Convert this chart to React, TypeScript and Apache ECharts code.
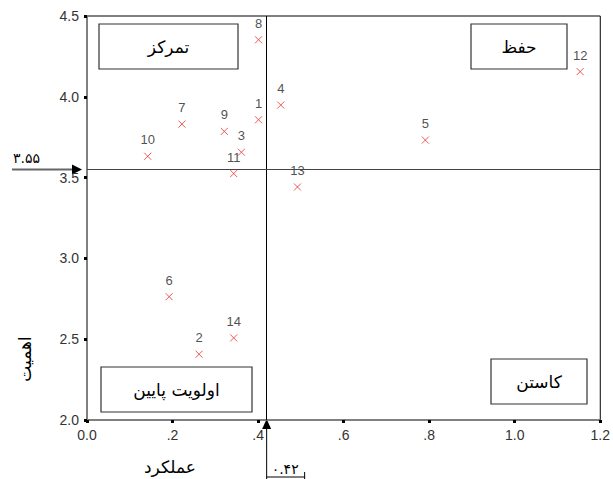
import React, { useEffect, useRef } from 'react';
import * as echarts from 'echarts';

const pointIds = ['1', '2', '3', '4', '5', '6', '7', '8', '9', '10', '11', '12', '13', '14'];
const performance = [0.401, 0.262, 0.361, 0.453, 0.791, 0.192, 0.222, 0.401, 0.321, 0.142, 0.343, 1.153, 0.492, 0.343];
const importance = [3.858, 2.407, 3.657, 3.949, 3.732, 2.763, 3.831, 4.353, 3.786, 3.632, 3.525, 4.156, 3.442, 2.508];
const xTickLabels = ['0.0', '.2', '.4', '.6', '.8', '1.0', '1.2'];
const yTickLabels = ['2.0', '2.5', '3.0', '3.5', '4.0', '4.5'];
const performanceMean = 0.42;
const importanceMean = 3.55;
const quadrantNames = ['تمرکز', 'حفظ', 'اولویت پایین', 'کاستن'];
const xTitle = 'عملکرد';
const yTitle = 'اهمیت';
const xMeanLabel = '۰.۴۲';
const yMeanLabel = '۳.۵۵';

const FA = '"DejaVu Sans", sans-serif';
const LAT = '"Liberation Sans", Arial, sans-serif';

export default function App() {
  const ref = useRef<HTMLDivElement>(null);
  useEffect(() => {
    if (!ref.current) return;
    const chart = echarts.init(ref.current, null, { renderer: 'svg' });
    const data = pointIds.map((id, i) => ({ name: id, value: [performance[i], importance[i]] }));
    chart.setOption({
      animation: false,
      backgroundColor: '#fff',
      grid: { left: 87, right: 9, top: 16, bottom: 59, show: true, borderColor: '#000', borderWidth: 1, backgroundColor: 'transparent' },
      xAxis: {
        type: 'value', min: 0, max: 1.2, interval: 0.2,
        splitLine: { show: false },
        axisLine: { show: true, onZero: false, lineStyle: { color: '#808080', width: 1.5 } },
        axisTick: { show: true, length: 3, lineStyle: { color: '#000', width: 3 } },
        axisLabel: { formatter: (_v: number, i: number) => xTickLabels[i], fontFamily: LAT, fontSize: 14, color: '#333', margin: 8 },
      },
      yAxis: {
        type: 'value', min: 2, max: 4.5, interval: 0.5,
        splitLine: { show: false },
        axisLine: { show: true, onZero: false, lineStyle: { color: '#808080', width: 1.5 } },
        axisTick: { show: true, length: 3, lineStyle: { color: '#000', width: 3 } },
        axisLabel: { formatter: (_v: number, i: number) => yTickLabels[i], fontFamily: LAT, fontSize: 14, color: '#333', margin: 8 },
      },
      series: [{
        type: 'scatter',
        data,
        symbol: 'path://M0,0L10,10M10,0L0,10',
        symbolSize: 7,
        itemStyle: { color: 'none', borderColor: '#ee3030', borderWidth: 1 },
        label: { show: true, position: 'top', distance: 4, formatter: (p: any) => p.name, fontFamily: LAT, fontSize: 13, color: '#222' },
        markLine: {
          silent: true, symbol: 'none', label: { show: false },
          data: [
            { xAxis: performanceMean, lineStyle: { color: '#000', width: 1, type: 'solid' } },
            { yAxis: importanceMean, lineStyle: { color: '#444', width: 1, type: 'solid' } },
          ],
        },
      }],
    });

    const [xPx, yPx] = chart.convertToPixel({ gridIndex: 0 }, [performanceMean, importanceMean]) as number[];
    const gridBottom = 479 - 59;
    const boxes = [
      { x: 99, y: 24, w: 139, h: 45 },
      { x: 471, y: 24, w: 96, h: 45 },
      { x: 101, y: 367, w: 151, h: 45 },
      { x: 491, y: 359, w: 96, h: 45 },
    ];
    const graphic: any[] = [];
    boxes.forEach((b, i) => {
      graphic.push({ type: 'rect', shape: { x: b.x, y: b.y, width: b.w, height: b.h }, style: { fill: '#fff', stroke: '#333', lineWidth: 1.2 }, z: 10 });
      graphic.push({ type: 'text', x: b.x + b.w / 2, y: b.y + b.h / 2, style: { text: quadrantNames[i], font: `17px ${FA}`, fill: '#000', align: 'center', verticalAlign: 'middle' }, z: 11 });
    });
    graphic.push({ type: 'text', x: 170, y: 467, style: { text: xTitle, font: `17px ${FA}`, fill: '#000', align: 'center', verticalAlign: 'middle' } });
    graphic.push({ type: 'text', x: 25, y: 359, rotation: Math.PI / 2, style: { text: yTitle, font: `17px ${FA}`, fill: '#000', align: 'center', verticalAlign: 'middle' } });
    // left mean arrow
    graphic.push({ type: 'line', shape: { x1: 12, y1: yPx, x2: 74, y2: yPx }, style: { stroke: '#666', lineWidth: 2 } });
    graphic.push({ type: 'polygon', shape: { points: [[72, yPx - 5], [82, yPx], [72, yPx + 5]] }, style: { fill: '#000' } });
    graphic.push({ type: 'text', x: 13, y: yPx - 12, style: { text: yMeanLabel, font: `14px ${FA}`, fill: '#000', align: 'left', verticalAlign: 'middle' } });
    // bottom mean arrow
    graphic.push({ type: 'line', shape: { x1: xPx, y1: gridBottom, x2: xPx, y2: 479 }, style: { stroke: '#000', lineWidth: 1 } });
    graphic.push({ type: 'polygon', shape: { points: [[xPx - 4.5, gridBottom + 9], [xPx, gridBottom - 1], [xPx + 4.5, gridBottom + 9]] }, style: { fill: '#000' } });
    graphic.push({ type: 'line', shape: { x1: xPx, y1: 477, x2: xPx + 38, y2: 477 }, style: { stroke: '#000', lineWidth: 1 } });
    graphic.push({ type: 'line', shape: { x1: xPx + 38, y1: 472, x2: xPx + 38, y2: 479 }, style: { stroke: '#000', lineWidth: 1 } });
    graphic.push({ type: 'text', x: xPx + 5, y: 469, style: { text: xMeanLabel, font: `14px ${FA}`, fill: '#000', align: 'left', verticalAlign: 'middle' } });
    chart.setOption({ graphic });

    return () => chart.dispose();
  }, []);
  return <div ref={ref} style={{ position: 'fixed', left: 0, top: 0, width: 613, height: 479, background: '#fff' }} />;
}
